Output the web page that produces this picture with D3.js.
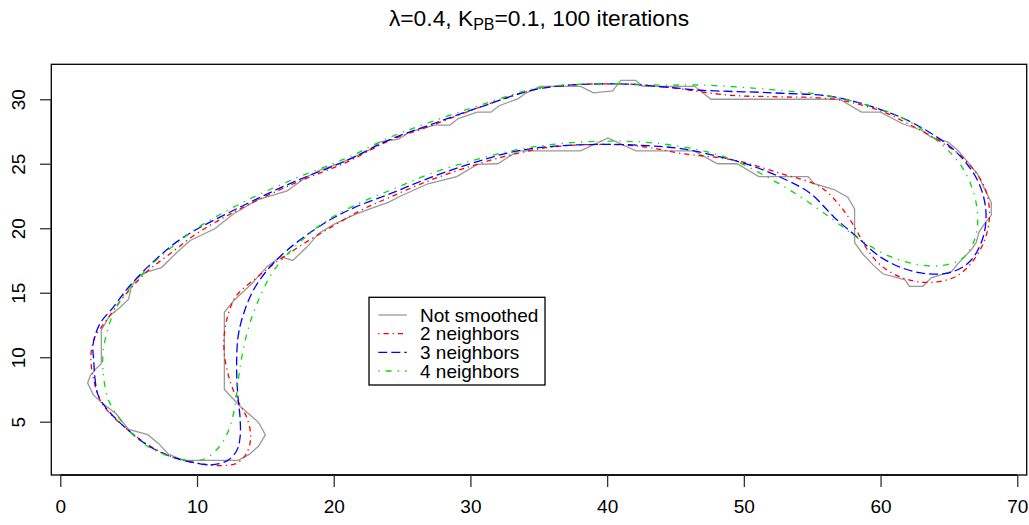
<!DOCTYPE html>
<html>
<head>
<meta charset="utf-8">
<script src="https://cdn.jsdelivr.net/npm/d3@7"></script>
<style>
  html, body { margin: 0; padding: 0; background: #fff; }
  svg { display: block; font-family: "Liberation Sans", Arial, Helvetica, sans-serif; }
</style>
</head>
<body>
<svg id="chart" width="1029" height="525"></svg>
<script>
// ---------- data ----------
const xTicks = [0, 10, 20, 30, 40, 50, 60, 70];
const yTicks = [5, 10, 15, 20, 25, 30];
const seriesNames = ["Not smoothed", "2 neighbors", "3 neighbors", "4 neighbors"];

// original contour (closed polygon)
const notSmoothed = [
  [2.0,8.0],[2.4,7.1],[3.0,6.5],[4.1,5.6],[5.0,4.4],[6.4,4.0],[7.2,3.3],[7.9,2.5],[9.0,2.0],
  [13.0,2.0],[13.8,2.45],[14.5,3.1],[15.0,4.0],[14.5,4.95],[13.15,6.2],[12.0,7.5],[12.0,13.5],
  [12.7,14.4],[14.0,15.7],[15.1,17.0],[16.1,17.8],[17.0,17.5],[18.0,18.5],[18.9,19.6],[20.0,20.3],
  [21.6,21.1],[22.9,21.6],[24.0,22.0],[24.9,22.5],[26.9,23.45],[29.0,24.0],[30.5,24.95],[32.0,25.0],
  [33.5,26.0],[38.06,26.0],[40.06,27.0],[42.1,26.0],[46.36,26.0],[48.07,25.0],[49.5,25.0],[51.1,24.0],
  [54.7,24.0],[55.15,23.45],[56.6,23.0],[57.6,22.4],[58.1,21.5],[58.1,18.9],[58.7,18.0],[59.5,17.1],
  [60.16,16.47],[61.8,16.0],[62.1,15.5],[63.1,15.5],[63.7,16.15],[65.2,16.65],[65.65,17.24],[66.1,17.76],
  [66.6,18.28],[67.0,18.9],[67.2,19.7],[67.7,20.5],[68.1,21.0],[68.1,22.0],[67.6,23.07],[67.1,24.2],
  [66.4,25.1],[65.65,26.04],[64.9,26.7],[63.7,27.07],[63.0,27.6],[61.6,28.1],[60.0,29.0],[58.6,29.0],
  [57.0,30.0],[47.6,30.0],[46.4,31.0],[42.6,31.0],[42.1,31.47],[41.0,31.47],[40.4,30.65],[39.0,30.5],
  [38.06,31.0],[35.1,31.0],[34.0,30.44],[33.5,30.05],[32.1,29.5],[31.5,29.0],[30.5,29.0],[29.1,28.5],
  [28.5,28.0],[27.4,28.0],[25.6,27.5],[24.75,26.9],[23.4,26.7],[22.55,26.04],[20.6,25.1],[19.0,24.5],
  [18.0,23.97],[16.6,22.9],[14.4,22.2],[12.66,21.1],[11.3,19.96],[9.5,19.05],[8.5,18.1],[7.4,16.95],
  [6.3,16.6],[5.58,16.1],[5.2,15.5],[5.0,14.5],[4.4,13.9],[3.6,13.2],[3.0,12.1],[3.0,9.5],[2.6,9.1],[2.2,8.6]
];

const neighbors2 = [
  [2.25,9.6],[2.4,8.45],[2.9,6.7],[3.5,5.8],[4.85,4.45],[6.5,3.15],[8.25,2.25],[10.2,1.76],[11.7,1.6],
  [12.9,1.78],[13.6,2.5],[13.93,3.8],[13.65,5.3],[13.0,6.6],[12.4,8.2],[12.0,10.25],[12.0,11.8],
  [12.3,13.4],[12.9,14.8],[14.4,16.2],[15.7,17.3],[17.8,18.8],[20.0,20.2],[22.0,21.4],[24.1,22.4],
  [27.0,23.7],[30.0,24.8],[33.0,25.7],[36.0,26.3],[40.0,26.5],[42.8,26.3],[45.4,25.8],[49.2,25.3],
  [52.7,24.25],[55.6,23.2],[57.1,21.65],[58.1,20.1],[59.06,18.3],[60.16,17.0],[61.75,16.1],[63.46,15.8],
  [65.4,16.2],[66.6,17.25],[67.6,19.05],[67.97,21.1],[67.6,23.2],[66.1,25.4],[64.4,26.7],[62.47,27.85],
  [60.0,29.1],[56.6,30.0],[52.0,30.2],[49.05,30.3],[44.2,30.95],[40.5,31.2],[35.1,30.83],[30.73,29.4],
  [27.0,27.9],[24.1,26.8],[21.0,25.15],[17.05,23.45],[13.15,21.5],[10.0,19.6],[8.0,18.0],[6.3,16.6],
  [4.6,14.65],[3.4,12.9],[2.53,11.55],[2.28,10.6]
];

const neighbors3 = [
  [2.45,9.7],[2.53,8.45],[2.75,7.1],[3.4,6.0],[4.85,4.45],[6.5,3.1],[8.2,2.25],[9.73,1.84],[10.95,1.66],
  [12.2,1.97],[12.9,2.75],[13.15,3.8],[13.15,5.3],[13.0,6.9],[12.9,9.0],[13.0,11.55],[13.4,13.35],
  [14.1,15.15],[15.1,16.7],[16.57,18.28],[19.25,20.35],[21.5,21.6],[24.14,22.68],[27.0,23.9],[30.0,25.0],
  [33.0,25.9],[36.0,26.35],[40.0,26.5],[43.0,26.4],[45.4,26.17],[48.0,25.6],[50.5,24.87],[53.2,23.7],
  [54.9,22.68],[56.6,20.86],[58.3,19.3],[60.0,17.76],[61.75,16.86],[63.46,16.47],[65.2,16.6],[66.6,17.5],
  [67.5,19.3],[67.7,21.4],[67.1,23.7],[65.4,26.04],[62.47,28.1],[60.0,29.2],[56.6,30.18],[52.0,30.5],
  [46.85,30.7],[44.2,30.95],[40.5,31.2],[35.1,30.83],[30.73,29.4],[27.0,28.0],[24.1,26.87],[20.97,25.26],
  [17.05,23.58],[13.15,21.64],[9.0,19.3],[7.0,17.6],[5.1,15.56],[3.87,13.87],[2.9,12.6],[2.4,11.0]
];

const neighbors4 = [
  [3.1,9.5],[3.14,8.7],[3.3,7.6],[3.6,6.5],[4.5,5.0],[5.82,3.5],[7.3,2.6],[8.75,2.1],[10.2,2.0],
  [10.95,2.36],[11.93,3.5],[12.54,5.07],[12.9,7.15],[13.15,9.22],[13.64,11.8],[14.37,14.1],[15.6,16.7],
  [17.3,18.7],[19.5,20.6],[22.0,22.0],[24.5,23.1],[27.0,24.2],[30.0,25.2],[33.0,26.0],[36.0,26.5],
  [40.0,26.75],[43.5,26.6],[46.85,26.04],[49.3,25.26],[51.7,23.97],[54.2,22.4],[56.6,20.6],[58.6,19.05],
  [60.5,17.9],[62.47,17.24],[64.4,17.1],[66.1,17.76],[67.0,19.57],[67.0,21.9],[66.1,24.5],[64.4,26.56],
  [61.5,28.6],[56.6,30.18],[52.0,30.75],[46.85,31.1],[44.0,31.1],[40.5,31.2],[35.1,30.9],[30.73,29.55],
  [27.0,28.2],[24.1,27.05],[20.97,25.45],[17.05,23.8],[13.15,21.9],[10.0,20.0],[8.0,18.4],[6.4,16.9],
  [4.8,15.0],[3.87,13.36],[3.38,11.8],[3.14,10.5]
];

const seriesData = [notSmoothed, neighbors2, neighbors3, neighbors4];
const seriesColors = ["#999999", "#ff0000", "#0000ff", "#00dd00"];
const seriesDash = [null, "1.3,3.9,5.2,3.9", "9,4", "1.3,6,6,6"];

// ---------- layout ----------
const svg = d3.select("#chart");
const plotL = 51.3, plotR = 1026.7, plotT = 64.3, plotB = 475;

const x = d3.scaleLinear().domain([-0.658, 70.69]).range([plotL, plotR]);
const y = d3.scaleLinear().domain([0.87, 32.71]).range([plotB, plotT]);

// series
const polyLine = d3.line().x(d => x(d[0])).y(d => y(d[1])).curve(d3.curveLinearClosed);
const smoothLine = d3.line().x(d => x(d[0])).y(d => y(d[1])).curve(d3.curveCatmullRomClosed.alpha(0.5));

seriesData.forEach((data, i) => {
  svg.append("path")
    .attr("d", i === 0 ? polyLine(data) : smoothLine(data))
    .attr("fill", "none")
    .attr("stroke", seriesColors[i])
    .attr("stroke-width", 1.3)
    .attr("stroke-dasharray", seriesDash[i]);
});

// box
svg.append("rect")
  .attr("x", plotL).attr("y", plotT)
  .attr("width", plotR - plotL).attr("height", plotB - plotT)
  .attr("fill", "none").attr("stroke", "#000").attr("stroke-width", 1.3);

// x axis
const xAxis = d3.axisBottom(x).tickValues(xTicks).tickSize(12).tickPadding(17).tickFormat(d3.format("d"));
const gx = svg.append("g").attr("transform", `translate(0,${plotB})`).call(xAxis);
gx.select(".domain").attr("d", `M${x(xTicks[0])},0H${x(xTicks[xTicks.length-1])}`).attr("stroke", "#000").attr("stroke-width", 1.3);
gx.selectAll(".tick line").attr("stroke", "#333").attr("stroke-width", 1.3);
gx.selectAll(".tick text").attr("font-size", 19).attr("fill", "#000")
  .attr("font-family", "Liberation Sans, Arial, sans-serif").attr("dy", "0.45em");

// y axis
const yAxis = d3.axisLeft(y).tickValues(yTicks).tickSize(11.3).tickFormat(d3.format("d"));
const gy = svg.append("g").attr("transform", `translate(${plotL},0)`).call(yAxis);
gy.select(".domain").attr("d", `M0,${y(yTicks[0])}V${y(yTicks[yTicks.length-1])}`).attr("stroke", "#000").attr("stroke-width", 1.3);
gy.selectAll(".tick line").attr("stroke", "#333").attr("stroke-width", 1.3);
gy.selectAll(".tick text").remove();
gy.selectAll(".tick").append("text")
  .attr("transform", "translate(-26.3,0) rotate(-90)")
  .attr("text-anchor", "middle")
  .attr("font-size", 19)
  .attr("fill", "#000")
  .attr("font-family", "Liberation Sans, Arial, sans-serif")
  .text(d => d);

// title
const title = svg.append("text")
  .attr("x", (plotL + plotR) / 2).attr("y", 26)
  .attr("text-anchor", "middle").attr("font-size", 22.8).attr("fill", "#000");
title.append("tspan").text("λ=0.4, K");
title.append("tspan").attr("font-size", 16).attr("dy", 4).text("PB");
title.append("tspan").attr("dy", -4).text("=0.1, 100 iterations");

// legend
const lg = svg.append("g");
lg.append("rect").attr("x", 369).attr("y", 297.3).attr("width", 176).attr("height", 87.7)
  .attr("fill", "#fff").attr("stroke", "#000").attr("stroke-width", 1.3);
const rowY = [315, 333.6, 352.4, 371];
seriesNames.forEach((name, i) => {
  lg.append("line").attr("x1", 378.3).attr("x2", 406.7).attr("y1", rowY[i]).attr("y2", rowY[i])
    .attr("stroke", seriesColors[i]).attr("stroke-width", 1.3).attr("stroke-dasharray", seriesDash[i]);
  lg.append("text").attr("x", 420).attr("y", rowY[i]).attr("dy", "0.35em")
    .attr("font-size", 19).attr("fill", "#000").text(name);
});
</script>
</body>
</html>
